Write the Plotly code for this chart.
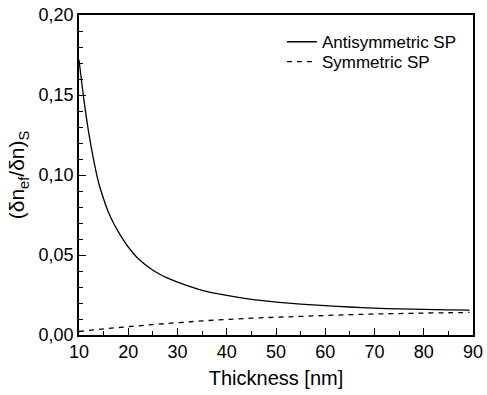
import plotly.graph_objects as go

# Film thickness (nm) and normalised effective-index change for each surface plasmon mode
thickness_anti = [10, 11, 12, 13, 14, 15, 16, 17, 18, 19, 20, 22, 25, 28,
                  30, 35, 40, 45, 50, 55, 60, 65, 70, 75, 80, 85, 89.3]
ratio_anti = [0.172, 0.147, 0.126, 0.109, 0.095, 0.085, 0.0765, 0.070, 0.0645, 0.0595,
              0.055, 0.0478, 0.0405, 0.0355, 0.033, 0.0279, 0.0247, 0.0222, 0.0206, 0.0193,
              0.0183, 0.0175, 0.0168, 0.0163, 0.0160, 0.0157, 0.0155]

thickness_sym = [10, 15, 20, 25, 30, 35, 40, 45, 50, 55, 60, 65, 70, 75, 80, 85, 89.3]
ratio_sym = [0.0022, 0.0038, 0.0052, 0.0065, 0.0077, 0.0088, 0.0097, 0.0105, 0.0111, 0.0116,
             0.0122, 0.0127, 0.0131, 0.0134, 0.0137, 0.0139, 0.0141]

x_ticks = [10, 20, 30, 40, 50, 60, 70, 80, 90]
y_ticks = [0.00, 0.05, 0.10, 0.15, 0.20]

font_family = "Liberation Sans, Arial, sans-serif"

fig = go.Figure()
fig.add_trace(go.Scatter(x=thickness_anti, y=ratio_anti, mode="lines", name="Antisymmetric SP",
                         legend="legend",
                         line=dict(color="black", width=1.3, shape="spline", smoothing=0.8)))
fig.add_trace(go.Scatter(x=thickness_sym, y=ratio_sym, mode="lines", name="Symmetric SP",
                         legend="legend2",
                         line=dict(color="black", width=1.3, dash="5px,5px", shape="spline")))

axis_common = dict(showline=True, linecolor="black", linewidth=1.5, mirror=True,
                   showgrid=False, zeroline=False, ticks="inside", tickcolor="black",
                   tickwidth=1.2, ticklen=7, automargin=False,
                   tickfont=dict(family=font_family, size=18, color="black"))

fig.update_xaxes(range=[10, 90], tickvals=x_ticks,
                 minor=dict(dtick=5, ticks="inside", ticklen=4, tickcolor="black", tickwidth=1.2),
                 title=dict(text="Thickness [nm]", font=dict(family=font_family, size=20, color="black"),
                            standoff=10),
                 **axis_common)
fig.update_yaxes(range=[0, 0.20], tickvals=y_ticks, tickformat=".2f",
                 minor=dict(dtick=0.01, ticks="inside", ticklen=4, tickcolor="black", tickwidth=1.2),
                 title=dict(text="(δn<sub>ef</sub>/δn)<sub>S</sub>",
                            font=dict(family=font_family, size=21, color="black"), standoff=8),
                 **axis_common)

legend_style = dict(xanchor="left", yanchor="middle", bgcolor="rgba(0,0,0,0)",
                    font=dict(family=font_family, size=17, color="black"), itemwidth=30)

fig.update_layout(
    width=487, height=395,
    margin=dict(l=79, r=14, t=15, b=60),
    paper_bgcolor="white", plot_bgcolor="white",
    separators=",.",
    showlegend=True,
    legend=dict(x=0.515, y=0.915, **legend_style),
    legend2=dict(x=0.515, y=0.853, **legend_style),
)

fig.write_html("out.html")
